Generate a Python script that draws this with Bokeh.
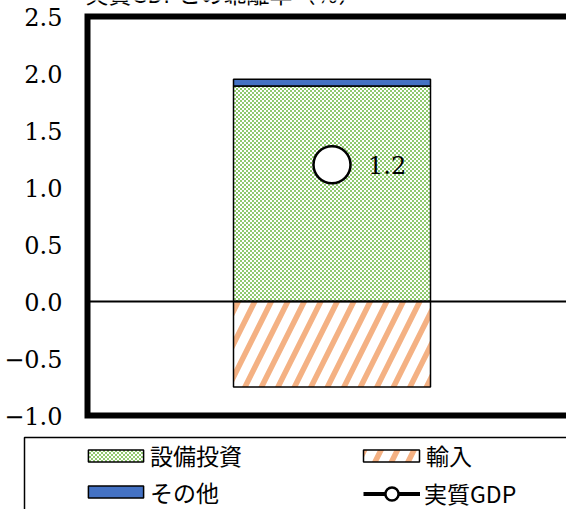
import base64
import struct
import zlib

from bokeh.core.properties import value
from bokeh.embed import file_html
from bokeh.models import (BoxAnnotation, ColumnDataSource, FixedTicker, ImageURLTexture,
                          Label, Legend, LegendItem, Range1d)
from bokeh.plotting import figure
from bokeh.resources import INLINE

# ---- data -------------------------------------------------------------
x_pos = [0]
capex = [1.89]        # 設備投資
other = [0.06]        # その他
imports = [-0.75]     # 輸入
real_gdp = [1.2]      # 実質GDP
series_names = ["設備投資", "輸入", "その他", "実質GDP"]
y_ticks = [-1.0, -0.5, 0.0, 0.5, 1.0, 1.5, 2.0, 2.5]
y_tick_labels = ["−1.0", "−0.5", "0.0", "0.5", "1.0", "1.5", "2.0", "2.5"]
y_title = "実質GDPとの乖離率（％）"
y_lo, y_hi = -1.0, 2.5

# ---- styling ----------------------------------------------------------
GREEN = (143, 201, 111)
WHITE = (255, 255, 255)
ORANGE = "#f4b183"
BLUE = "#4472c4"
CJK = "Noto Sans CJK JP"
NUM = "DejaVu Serif"

W, H = 566, 509
CANVAS_L = 22                 # left edge of the drawing frame
AX_L, AX_T, AX_B = 87, 16, 415  # chart box (pixels)
BAR_CX, BAR_W = 331.5, 197.0
PX_Y = (AX_B - AX_T) / (y_hi - y_lo)

x0 = -(BAR_CX - CANVAS_L) / BAR_W
x1 = x0 + (W - CANVAS_L) / BAR_W
y0 = y_lo - (H - AX_B) / PX_Y
y1 = y_hi + AX_T / PX_Y


def xd(px):
    return x0 + (px - CANVAS_L) / BAR_W


def yd(py):
    return y1 - py / PX_Y


def checker_png(c1, c2, cell=2):
    n = cell * 2
    raw = b""
    for yy in range(n):
        raw += b"\x00"
        for xx in range(n):
            raw += bytes(c1 if (xx // cell + yy // cell) % 2 == 0 else c2)

    def chunk(tag, data):
        return (struct.pack(">I", len(data)) + tag + data
                + struct.pack(">I", zlib.crc32(tag + data) & 0xFFFFFFFF))

    png = (b"\x89PNG\r\n\x1a\n"
           + chunk(b"IHDR", struct.pack(">IIBBBBB", n, n, 8, 2, 0, 0, 0))
           + chunk(b"IDAT", zlib.compress(raw))
           + chunk(b"IEND", b""))
    return "data:image/png;base64," + base64.b64encode(png).decode()


p = figure(width=W, height=H, output_backend="svg", toolbar_location=None,
           x_range=Range1d(x0, x1), y_range=Range1d(y0, y1),
           x_axis_location=None,
           min_border_left=CANVAS_L, min_border_right=0,
           min_border_top=0, min_border_bottom=0,
           outline_line_color=None, background_fill_color="white",
           border_fill_color="white")
p.xgrid.visible = False
p.ygrid.visible = False

# y axis: labels only, right-aligned left of the chart box
yax = p.yaxis[0]
yax.ticker = FixedTicker(ticks=y_ticks)
yax.major_label_overrides = dict(zip(y_ticks, y_tick_labels))
yax.major_label_text_font = NUM
yax.major_label_text_font_size = "24px"
yax.major_label_text_color = "black"
yax.major_label_standoff = -(62 - CANVAS_L)
yax.axis_line_color = None
yax.major_tick_line_color = None
yax.minor_tick_line_color = None
yax.major_tick_out = 0
yax.major_tick_in = 0

# stacked segments
other_bottom = capex
other_top = [c + o for c, o in zip(capex, other)]
src = ColumnDataSource(dict(
    x=x_pos, zero=[0.0] * len(x_pos), capex=capex,
    other_bottom=other_bottom, other_top=other_top, imports=imports, gdp=real_gdp,
    gdp_text=[f"{v:.1f}" for v in real_gdp],
))

checker = ImageURLTexture(url=checker_png(GREEN, WHITE), repetition="repeat")
r_capex = p.vbar(x="x", width=1, bottom="zero", top="capex", source=src,
                 fill_color="white", hatch_pattern=value("checker"),
                 hatch_extra={"checker": checker},
                 line_color="black", line_width=1.5)
r_other = p.vbar(x="x", width=1, bottom="other_bottom", top="other_top", source=src,
                 fill_color=BLUE, line_color="black", line_width=1.5)
r_imp = p.vbar(x="x", width=1, bottom="imports", top="zero", source=src,
               fill_color="white", hatch_pattern="right_diagonal_line",
               hatch_color=ORANGE, hatch_scale=33, hatch_weight=5.5,
               line_color="black", line_width=1.5)

r_gdp_line = p.line(x="x", y="gdp", source=src, line_color="black", line_width=4)
r_gdp_pt = p.scatter(x="x", y="gdp", source=src, size=37, marker="circle",
                     fill_color="white", line_color="black", line_width=2.5)
p.text(x="x", y="gdp", text="gdp_text", source=src, x_offset=36,
       text_baseline="middle", text_align="left",
       text_font=value(NUM), text_font_size="24px", text_color="black")

# zero line (top edge of the lower half) and the thick chart box
p.add_layout(BoxAnnotation(left=xd(AX_L), right=x1 + 1, top=0.0, bottom=y_lo,
                           fill_color=None, fill_alpha=0, line_color="black",
                           line_alpha=1, line_width=2))
p.add_layout(BoxAnnotation(left=xd(AX_L), right=x1 + 1, top=y_hi, bottom=y_lo,
                           fill_color=None, fill_alpha=0, line_color="black",
                           line_alpha=1, line_width=6, line_join="miter"))

# axis title above the chart box
p.add_layout(Label(x=xd(85), y=y_hi, y_offset=7, text=y_title,
                   text_font=CJK, text_font_size="23px", text_baseline="bottom",
                   text_color="black"))

# legend frame
p.add_layout(BoxAnnotation(left=xd(24), right=x1 + 1, top=yd(437), bottom=y0 - 1,
                           fill_color=None, fill_alpha=0, line_color="black",
                           line_alpha=1, line_width=1.5))


# one legend per entry so each can be placed freely
def add_legend(label, renderers, left, center_y, gw, gh, standoff):
    item_h = max(gh, 30)
    leg = Legend(items=[LegendItem(label=label, renderers=renderers)],
                 location=(left - CANVAS_L, H - (center_y + item_h / 2)),
                 orientation="vertical", padding=0, spacing=0, margin=0,
                 border_line_color=None, background_fill_alpha=0,
                 glyph_width=gw, glyph_height=gh, label_standoff=standoff,
                 label_height=30, label_width=140,
                 label_text_font=CJK, label_text_font_size="23px",
                 label_text_color="black", label_text_baseline="middle")
    p.add_layout(leg)


add_legend(series_names[0], [r_capex], 81, 457, 69, 15, 0)
add_legend(series_names[1], [r_imp], 356, 457, 70, 15, 0)
add_legend(series_names[2], [r_other], 81, 493.5, 69, 15, 0)
add_legend(series_names[3], [r_gdp_line, r_gdp_pt], 363, 493.5, 57, 33, 4)

open("out.html", "w").write(file_html(p, INLINE))
